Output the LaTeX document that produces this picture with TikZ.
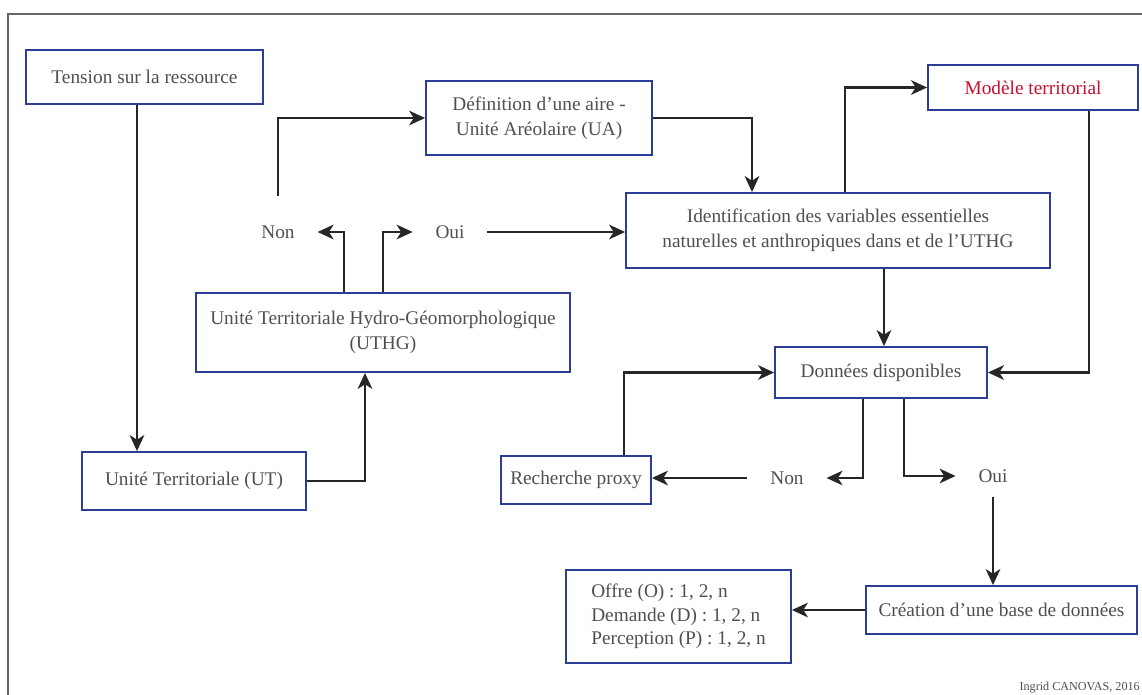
\documentclass[tikz,border=0pt]{standalone}
\usepackage{fontspec}
\setmainfont{Liberation Serif}
\usetikzlibrary{arrows.meta}

\definecolor{boxblue}{HTML}{2B3D96}
\definecolor{txtgray}{HTML}{4F4F4F}
\definecolor{modred}{HTML}{C8102E}

\begin{document}
\begin{tikzpicture}[x=0.75pt, y=-0.75pt,
  box/.style={draw=boxblue, line width=1.4pt, text=txtgray, align=center, inner sep=0pt,
    font=\fontsize{14.5}{18.5}\selectfont},
  lbl/.style={text=txtgray, inner xsep=17pt, inner ysep=11pt, font=\fontsize{14.5}{17.6}\selectfont},
  arr/.style={line width=1.7pt, black!85, -{Stealth[length=12pt, width=11pt, inset=3.5pt]}}]
\useasboundingbox (0,0) rectangle (1142,695);
\draw[black!60, line width=1.1pt] (8,695) -- (8,14) -- (1142,14);

\node[box, minimum width=177.75pt, minimum height=40.5pt] (tension) at (144.5,77) {Tension sur la ressource};
\node[box, minimum width=168pt, minimum height=43.5pt] (ut) at (194,481) {Unité Territoriale (UT)};
\node[box, minimum width=280.5pt, minimum height=59.25pt] (uthg) at (383,332.5) {Unité Territoriale Hydro-Géomorphologique\\(UTHG)};
\node[box, minimum width=169.5pt, minimum height=55.5pt] (def) at (539,118) {Définition d’une aire -\\Unité Aréolaire (UA)};
\node[box, minimum width=157.5pt, minimum height=33.75pt, text=modred] (modele) at (1033,87.5) {Modèle territorial};
\node[box, minimum width=318pt, minimum height=56.25pt] (ident) at (838,230.5) {Identification des variables essentielles\\naturelles et anthropiques dans et de l’UTHG};
\node[box, minimum width=159pt, minimum height=38.25pt] (donnees) at (881,372.5) {Données disponibles};
\node[box, minimum width=112.5pt, minimum height=36pt] (proxy) at (576,480) {Recherche proxy};
\node[box, minimum width=203.25pt, minimum height=36pt] (creation) at (1001.5,610) {Création d’une base de données};
\node[box, minimum width=168.75pt, minimum height=69.75pt, align=left, font=\fontsize{14.5}{17.6}\selectfont] (offre) at (678.5,616.5) {Offre (O) : 1, 2, n\\Demande (D) : 1, 2, n\\Perception (P) : 1, 2, n};

\node[lbl, inner ysep=22pt] (non1) at (278,232) {Non};
\node[lbl] (oui1) at (450,232) {Oui};
\node[lbl] (non2) at (787,478) {Non};
\node[lbl] (oui2) at (993,476) {Oui};

\node[anchor=base east, text=txtgray, font=\fontsize{9.1}{11}\selectfont, inner sep=0pt] (credit) at (1140,690) {Ingrid CANOVAS, 2016};

\draw[arr] (tension.south -| 137,0) -- (ut.north -| 137,0);
\draw[arr] (ut.east) -| (uthg.south -| 365,0);
\draw[arr] (uthg.north -| 344,0) |- (non1.east);
\draw[arr] (uthg.north) |- (oui1.west);
\draw[arr] (oui1.east) -- (oui1.east -| ident.west);
\draw[arr] (non1.north) |- (def.west);
\draw[arr] (def.east) -| (ident.north -| 752,0);
\draw[arr] (ident.north -| 845,0) |- (modele.west);
\draw[arr] (modele.south -| 1089,0) |- (donnees.east);
\draw[arr] (ident.south -| 884,0) -- (donnees.north -| 884,0);
\draw[arr] (proxy.north -| 624,0) |- (donnees.west);
\draw[arr] (donnees.south -| 863,0) |- (non2.east);
\draw[arr] (donnees.south -| 904,0) |- (oui2.west);
\draw[arr] (non2.west) -- (non2.west -| proxy.east);
\draw[arr] (oui2.south) -- (oui2.south |- creation.north);
\draw[arr] (creation.west) -- (creation.west -| offre.east);
\end{tikzpicture}
\end{document}
